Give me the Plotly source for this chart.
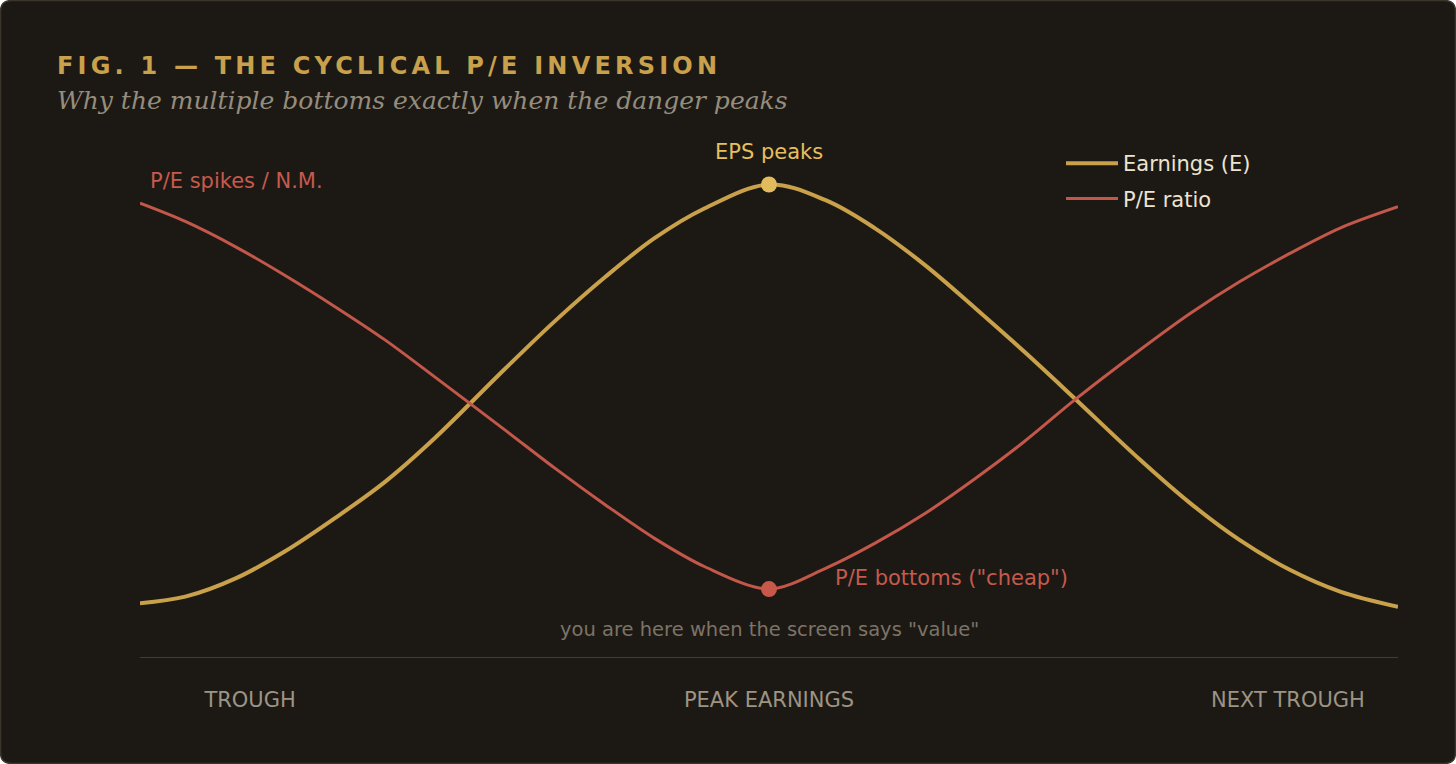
import plotly.graph_objects as go

# cycle position (% of one full earnings cycle) and levels
phase = [0, 3.6, 7.6, 11.5, 15.5, 19.5, 23.4, 29.0, 33.0, 37.0, 40.9, 44.9, 50.0,
         54.5, 58.4, 62.4, 66.4, 70.3, 74.3, 79.5, 83.5, 87.4, 91.4, 95.4, 100]
earnings = [10.6, 11.9, 15.5, 20.8, 27.4, 34.6, 43.1, 56.8, 66.3, 75.0, 82.6, 88.5, 93.2,
            90.1, 84.6, 77.3, 68.8, 60.2, 51.0, 38.9, 30.3, 23.1, 17.2, 12.9, 9.9]
pe_ratio = [89.5, 85.9, 80.9, 75.3, 69.1, 62.5, 55.3, 44.8, 37.2, 30.0, 23.4, 17.8, 13.4,
            17.5, 22.4, 28.3, 35.2, 42.5, 50.7, 60.6, 67.8, 74.0, 79.6, 84.6, 88.8]

tick_pos = [8.75, 50, 91.25]
tick_text = ["TROUGH", "PEAK EARNINGS", "NEXT TROUGH"]

peak_i = earnings.index(max(earnings))
low_i = pe_ratio.index(min(pe_ratio))

W, H = 1456, 764
L, R, T, B = 140, 58, 150, 107
PW, PH = W - L - R, H - T - B

GOLD = "#C9A14A"
GOLD_DOT = "#E2BC5C"
RED = "#C2574A"
BG = "#1C1915"
EDGE = "#3B352B"
SANS = "DejaVu Sans, Verdana, sans-serif"


def px(x):
    return (x - L) / PW


def py(y):
    return (H - B - y) / PH


def card_path(x0, y0, x1, y1, r):
    # rounded rectangle in paper coords, from pixel corners
    pts = [
        f"M {px(x0 + r)} {py(y0)}",
        f"L {px(x1 - r)} {py(y0)}",
        f"Q {px(x1)} {py(y0)} {px(x1)} {py(y0 + r)}",
        f"L {px(x1)} {py(y1 - r)}",
        f"Q {px(x1)} {py(y1)} {px(x1 - r)} {py(y1)}",
        f"L {px(x0 + r)} {py(y1)}",
        f"Q {px(x0)} {py(y1)} {px(x0)} {py(y1 - r)}",
        f"L {px(x0)} {py(y0 + r)}",
        f"Q {px(x0)} {py(y0)} {px(x0 + r)} {py(y0)}",
        "Z",
    ]
    return " ".join(pts)


fig = go.Figure()

fig.add_trace(go.Scatter(
    x=phase, y=earnings, name="Earnings (E)", mode="lines",
    line=dict(color=GOLD, width=4, shape="spline", smoothing=1),
    legendgroup="e",
))
fig.add_trace(go.Scatter(
    x=phase, y=pe_ratio, name="P/E ratio", mode="lines",
    line=dict(color=RED, width=3, shape="spline", smoothing=0.9),
    legendgroup="pe",
))
fig.add_trace(go.Scatter(
    x=[phase[peak_i]], y=[earnings[peak_i]], mode="markers", showlegend=False,
    marker=dict(color=GOLD_DOT, size=16),
))
fig.add_trace(go.Scatter(
    x=[phase[low_i]], y=[pe_ratio[low_i]], mode="markers", showlegend=False,
    marker=dict(color="#C8594A", size=16),
))

fig.add_shape(
    type="path", xref="paper", yref="paper", layer="below",
    path=card_path(0.5, 0.5, W - 0.5, H - 0.5, 11),
    fillcolor=BG, line=dict(color=EDGE, width=1.5),
)

notes = [
    dict(x=phase[peak_i], y=99.6, text="EPS peaks", xanchor="center",
         font=dict(color="#E6BF5E", size=21)),
    dict(x=0.64, y=93.9, text="P/E spikes / N.M.", xanchor="left",
         font=dict(color="#C65A4C", size=21)),
    dict(x=55.1, y=15.6, text='P/E bottoms ("cheap")', xanchor="left",
         font=dict(color="#C65A4C", size=21)),
    dict(x=phase[peak_i], y=5.5, text='you are here when the screen says "value"', xanchor="center",
         font=dict(color="#7C7365", size=19.5)),
]
for n in notes:
    fig.add_annotation(xref="x", yref="y", showarrow=False, yanchor="middle",
                       font_family=SANS, **n)

fig.add_annotation(
    xref="paper", yref="paper", x=px(55), y=py(66), xanchor="left", yanchor="middle",
    showarrow=False,
    text='<span style="letter-spacing:4.2px">FIG. 1 — THE CYCLICAL P/E INVERSION</span>',
    font=dict(family=SANS, size=24, color="#C9A04B", weight="bold"),
)
fig.add_annotation(
    xref="paper", yref="paper", x=px(55), y=py(101), xanchor="left", yanchor="middle",
    showarrow=False,
    text="Why the multiple bottoms exactly when the danger peaks",
    font=dict(family="DejaVu Serif, serif", size=25, color="#958C7C", style="italic"),
)

fig.update_xaxes(
    range=[0, 100], showgrid=False, zeroline=False,
    showline=True, linecolor="#433C31", linewidth=1,
    tickmode="array", tickvals=tick_pos, ticktext=tick_text,
    ticks="outside", ticklen=24, tickcolor="rgba(0,0,0,0)",
    tickfont=dict(family=SANS, size=21, color="#9C9484"),
)
fig.update_yaxes(range=[0, 100], visible=False)

fig.update_layout(
    width=W, height=H,
    margin=dict(l=L, r=R, t=T, b=B),
    paper_bgcolor="#FFFFFF",
    plot_bgcolor="rgba(0,0,0,0)",
    showlegend=True,
    legend=dict(
        x=px(1061), y=py(143), xanchor="left", yanchor="top",
        bgcolor="rgba(0,0,0,0)",
        font=dict(family=SANS, size=21, color="#EDE3CF"),
        traceorder="grouped", tracegroupgap=5,
        itemwidth=52,
    ),
    hovermode=False,
)

fig.write_html("out.html", config={"displayModeBar": False},
               post_script="document.body.style.margin='0';")
